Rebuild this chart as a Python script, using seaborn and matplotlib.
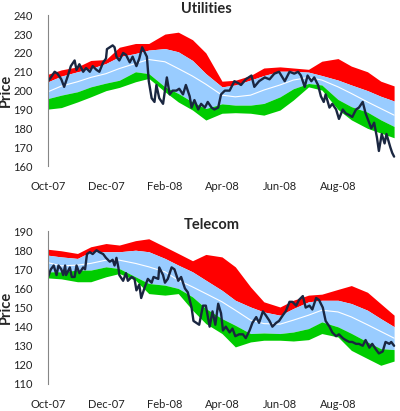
import numpy as np
import pandas as pd
import matplotlib
matplotlib.use('Agg')
import matplotlib.pyplot as plt
import seaborn as sns

# bands sampled on the 1st and 15th of each month, plus the last day
start = pd.Timestamp('2007-10-01')
band_dates = pd.date_range('2007-10-01', '2008-09-15', freq='SMS').append(pd.DatetimeIndex(['2008-09-29']))
tick_dates = pd.to_datetime(['2007-10-01', '2007-12-01', '2008-02-01', '2008-04-01', '2008-06-01', '2008-08-01'])
tick_labels = ['Oct-07', 'Dec-07', 'Feb-08', 'Apr-08', 'Jun-08', 'Aug-08']

# Utilities
util_top = [208.7, 211, 212.6, 216, 216.5, 223, 225, 225, 230, 231, 227, 220, 205, 205.5, 208, 212, 212.6,
            212, 211.3, 215.6, 217, 213, 210, 205, 202.5]
util_up = [204.7, 207.7, 210, 211.7, 214.4, 218, 219.7, 221.5, 222.3, 220.6, 216, 209, 202, 203, 205.6, 208,
           210.3, 210.3, 209.8, 208, 205.6, 203, 200, 197, 194.5]
util_mid = [199.4, 202.4, 204.7, 207, 209, 211.7, 214.4, 216.5, 215.3, 211.7, 207.7, 203.4, 197.6, 196.7, 197.6,
            200.3, 203, 205.6, 207, 205.6, 202, 198.5, 194, 190.5, 187]
util_low = [195.8, 197.6, 199.4, 202, 204, 205.5, 210, 209, 202, 198.5, 194, 190.5, 193, 192.3, 192.3, 193.2,
            196.7, 201, 203.8, 203, 195.3, 191.5, 188.6, 184.5, 181]
util_bot = [190.2, 191, 194, 196.7, 200, 201.7, 204.7, 206.5, 199.4, 194, 189.7, 184.4, 188, 188.3, 188, 187,
            189.7, 195, 202, 200.3, 190, 184.5, 180, 177.5, 175]
util_days = [0, 3, 7, 10, 14, 17, 21, 24, 28, 30, 33, 37, 40, 44, 47, 51, 54, 58, 61, 62, 65, 68, 70, 72, 75,
             79, 82, 86, 89, 93, 96, 99, 102, 104, 106, 109, 112, 114, 117, 121, 123, 125, 128, 131, 135, 138,
             142, 145, 149, 151, 154, 158, 161, 165, 168, 172, 175, 179, 182, 186, 191, 196, 200, 203, 208, 214,
             217, 222, 228, 233, 238, 243, 249, 254, 259, 263, 266, 270, 273, 277, 280, 284, 287, 290, 292, 296,
             299, 303, 306, 310, 313, 317, 320, 324, 327, 331, 334, 337, 340, 343, 346, 348, 351, 354, 356, 360,
             362, 364]
util_price = [205, 207, 210, 209, 206, 202, 208, 213, 216, 211, 214, 210, 212, 210, 213, 211, 210, 215, 217, 222,
              223, 224, 223, 218, 216, 220, 219, 215, 218, 213, 217, 223, 220, 218, 205, 196, 194, 203, 196, 193,
              200, 207, 198, 200, 200, 201, 198, 203, 197, 191, 195, 190, 193, 191, 194, 191, 190, 191, 198, 200,
              200, 205, 204, 203, 206, 208, 202, 205, 207, 206, 209, 210, 205, 210, 209, 210, 208, 202, 208, 205,
              207, 203, 197, 194, 198, 191, 193, 190, 185, 190, 188, 187, 186, 190, 191, 194, 188, 184, 180, 183,
              175, 168, 177, 172, 177, 170, 167, 165]

# Telecom
tel_top = [180.5, 179.7, 178.3, 181.8, 183.5, 182.7, 185, 186, 181.8, 178.3, 174.5, 177.8, 176.5, 171.3, 160.8,
           153, 150.3, 153.8, 156.5, 157, 159.5, 161.5, 158, 152, 146]
tel_up = [177.4, 176.5, 175.7, 179.2, 179.2, 179.2, 180, 179.2, 175.7, 172.2, 168.7, 164.3, 159, 153.8, 150.3,
          147.7, 146, 149.5, 153, 153.8, 153.8, 152.1, 148.6, 144.2, 140]
tel_mid = [173.5, 171.8, 172.2, 173.1, 174.8, 174.8, 173.1, 171.3, 168.7, 164.3, 160.8, 157.3, 153, 148.6, 143.4,
           141.6, 141.3, 143.4, 146, 148.6, 147.7, 145.1, 141, 137.5, 134]
tel_low = [168.7, 168.7, 169.6, 169.6, 171.3, 170.4, 166.1, 162.6, 161.7, 160, 155.6, 149.5, 144.2, 140.7, 136.4,
           136.7, 136.4, 137.2, 139, 142.5, 139.9, 136.5, 132, 128.5, 128]
tel_bot = [165.5, 165, 163.5, 163.5, 166.1, 167.8, 164.3, 157.3, 156.5, 157.3, 148.6, 141.6, 136.4, 129.4, 132,
           132.9, 132.9, 132.5, 133.2, 136.4, 134.6, 127.6, 123.3, 119.8, 122]
tel_days = [0, 3, 6, 9, 11, 14, 16, 18, 19, 23, 25, 28, 30, 33, 37, 39, 41, 44, 47, 51, 54, 58, 61, 65, 68, 70,
            72, 74, 75, 79, 82, 84, 88, 91, 93, 96, 98, 102, 105, 109, 111, 116, 117, 121, 123, 126, 130, 133,
            137, 140, 144, 147, 151, 153, 156, 159, 163, 166, 170, 173, 176, 179, 182, 184, 187, 191, 194, 197,
            201, 205, 208, 212, 215, 219, 222, 226, 229, 233, 236, 240, 243, 247, 250, 254, 257, 261, 264, 268,
            271, 275, 278, 282, 285, 289, 292, 296, 299, 303, 306, 310, 313, 317, 320, 324, 327, 331, 334, 338,
            341, 345, 348, 352, 355, 359, 361, 364]
tel_price = [166, 170, 172, 167, 172, 170, 167, 172, 167, 171, 166, 166, 172, 168, 171, 170, 178, 179, 178, 180,
             179, 178, 176, 174, 175, 172, 176, 171, 167, 164, 168, 164, 166, 165, 159, 162, 155, 161, 165, 163,
             166, 165, 171, 167, 163, 165, 171, 170, 164, 166, 160, 158, 150, 143, 142, 141, 151, 151, 140, 148,
             141, 152, 147, 138, 140, 137, 139, 135, 136, 136, 134, 138, 142, 145, 142, 148, 146, 143, 140, 142,
             143, 146, 148, 153, 153, 151, 154, 156, 150, 151, 149, 155, 154, 150, 143, 140, 137, 135, 136, 134,
             133, 132, 132, 131, 131, 130, 133, 129, 131, 128, 126, 127, 132, 131, 132, 130]

sns.set_style('white')
plt.rcParams['font.family'] = ['Lato', 'DejaVu Sans']

fig = plt.figure(figsize=(4.0, 4.11), dpi=100)
ax1 = fig.add_axes([0.12, 0.596, 0.87, 0.367])
ax2 = fig.add_axes([0.12, 0.0657, 0.87, 0.372])


def draw(ax, title, tx, days, price, top, up, mid, low, bot, lo, hi):
    dates = start + pd.to_timedelta(days, unit='D')
    ax.fill_between(band_dates, up, top, color='#FF0000', lw=0)
    ax.fill_between(band_dates, low, up, color='#99CCFF', lw=0)
    ax.fill_between(band_dates, bot, low, color='#00CC00', lw=0)
    sns.lineplot(x=band_dates, y=mid, color='white', lw=0.8, ax=ax)
    sns.lineplot(x=dates, y=price, color='#1A2640', lw=1.7, ax=ax)

    ax.set_xlim(start, pd.Timestamp('2008-10-01'))
    ax.set_ylim(lo, hi)
    ax.set_yticks(np.arange(lo, hi + 1, 10))
    ax.set_xticks(tick_dates)
    ax.set_xticklabels(tick_labels)
    ax.tick_params(axis='x', length=0, pad=11, labelsize=8, colors='#222222')
    ax.tick_params(axis='y', length=3, width=0.8, direction='out', color='#868686',
                   pad=8, labelsize=8, labelcolor='#222222')
    ax.set_title(title, fontsize=10.5, fontweight='bold', x=tx, pad=1.5)
    ax.set_ylabel('Price', fontsize=10.5, fontweight='bold')
    ax.yaxis.set_label_coords(-0.1, 0.5)
    ax.set_xlabel('')
    for s in ['top', 'right', 'bottom']:
        ax.spines[s].set_visible(False)
    ax.spines['left'].set_color('#868686')
    ax.spines['left'].set_linewidth(0.8)


draw(ax1, 'Utilities', 0.454, util_days, util_price, util_top, util_up, util_mid, util_low, util_bot, 160, 240)
draw(ax2, 'Telecom', 0.471, tel_days, tel_price, tel_top, tel_up, tel_mid, tel_low, tel_bot, 110, 190)

fig.savefig('out.png', dpi=100)
